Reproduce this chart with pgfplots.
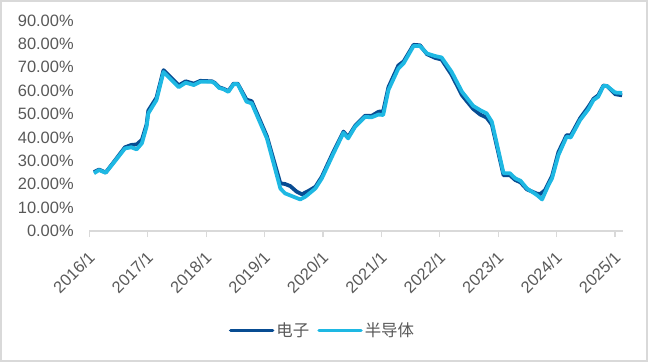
\documentclass[border=0pt]{standalone}
\usepackage{pgfplots}
\pgfplotsset{compat=1.18}
\usepackage{fontspec}
\setmainfont{Liberation Sans}
\newfontfamily\cjk{Noto Sans CJK SC}
\definecolor{darkb}{RGB}{8,76,146}
\definecolor{lightb}{RGB}{30,184,227}
\definecolor{txt}{RGB}{89,89,89}
\definecolor{frame}{RGB}{217,217,217}
\begin{document}
\fontsize{16.5}{19}\selectfont
\begin{tikzpicture}[x=1bp,y=1bp]
\begin{axis}[
  at={(0,0)}, anchor=south west,
  scale only axis, width=534bp, height=210.5bp,
  xmin=2016, xmax=2025.14, ymin=0, ymax=90,
  axis x line*=bottom, axis y line*=left,
  y axis line style={draw=none},
  x axis line style={draw=frame, line width=1.2bp},
  xtick={2016,...,2025},
  xticklabels={2016/1,2017/1,2018/1,2019/1,2020/1,2021/1,2022/1,2023/1,2024/1,2025/1},
  xtick style={draw=frame, line width=1.2bp},
  tick align=outside, major tick length=6bp,
  ytick={0,10,...,90},
  ytick style={draw=none},
  /pgf/number format/assume math mode=true,
  yticklabel={\pgfmathprintnumber[fixed,fixed zerofill,precision=2]{\tick}\%},
  yticklabel style={text=txt, font=\fontsize{16.5}{19}\selectfont, xshift=-4bp},
  xticklabel style={text=txt, font=\fontsize{16.5}{19}\selectfont, xshift=-2bp, yshift=-10bp, rotate=45, anchor=north east, inner sep=2bp},
  legend columns=2,
  legend style={draw=none, fill=none, at={(0.4367,-0.4736)}, anchor=center,
    font=\fontsize{16.5}{19}\selectfont, text=txt,
    /tikz/every even column/.append style={column sep=6bp}},
  legend image code/.code={\draw[#1, line width=3.5bp, line cap=round] (0bp,0bp) -- (42bp,0bp);},
  clip=false,
]
\addplot[darkb, line width=3.8bp, line join=round] coordinates {
(2016.08,25.2) (2016.17,26.3) (2016.21,25.8) (2016.28,25.0) (2016.45,30.5) (2016.61,35.8) (2016.72,36.8) (2016.81,37.0) (2016.90,39.0) (2016.98,45.5) (2017.01,51.5) (2017.15,57.0) (2017.27,68.8) (2017.53,62.3) (2017.65,64.0) (2017.79,63.0) (2017.90,64.2) (2018.10,64.0) (2018.15,63.3) (2018.22,61.5) (2018.30,60.8) (2018.38,59.8) (2018.47,63.0) (2018.54,63.0) (2018.69,56.2) (2018.78,55.5) (2019.04,40.5) (2019.27,20.4) (2019.35,20.1) (2019.44,19.2) (2019.55,16.8) (2019.64,15.7) (2019.75,17.1) (2019.87,18.9) (2019.98,23.2) (2020.18,34.0) (2020.35,42.5) (2020.43,40.2) (2020.55,45.0) (2020.72,49.3) (2020.83,49.2) (2020.95,51.0) (2021.03,51.2) (2021.12,61.5) (2021.29,70.8) (2021.38,72.5) (2021.55,79.6) (2021.66,79.4) (2021.78,75.6) (2021.92,74.0) (2022.03,73.3) (2022.20,66.8) (2022.38,58.0) (2022.57,52.2) (2022.69,49.8) (2022.80,48.5) (2022.89,45.5) (2023.09,23.8) (2023.20,23.8) (2023.29,21.8) (2023.38,20.8) (2023.49,17.8) (2023.66,16.0) (2023.72,15.8) (2023.80,17.5) (2023.92,23.5) (2024.03,33.8) (2024.17,41.0) (2024.24,40.8) (2024.40,48.2) (2024.54,53.0) (2024.63,56.5) (2024.71,58.0) (2024.80,62.2) (2024.86,62.0) (2025.00,58.5) (2025.12,58.0)
};
\addlegendentry{\cjk 电子}
\addplot[lightb, line width=3.8bp, line join=round] coordinates {
(2016.08,24.7) (2016.17,26.1) (2016.21,25.6) (2016.28,24.9) (2016.45,30.2) (2016.61,35.3) (2016.72,35.8) (2016.81,34.9) (2016.90,37.5) (2016.98,44.6) (2017.01,50.3) (2017.15,56.0) (2017.27,68.0) (2017.53,61.5) (2017.65,63.4) (2017.79,62.4) (2017.90,63.8) (2018.10,63.8) (2018.15,63.1) (2018.22,61.2) (2018.30,60.6) (2018.38,59.5) (2018.47,62.8) (2018.54,62.8) (2018.69,55.3) (2018.78,54.6) (2019.04,39.6) (2019.27,18.2) (2019.35,16.1) (2019.61,13.5) (2019.70,14.7) (2019.87,18.2) (2019.98,22.5) (2020.18,33.2) (2020.35,42.0) (2020.43,39.6) (2020.55,44.6) (2020.72,48.8) (2020.83,48.6) (2020.95,49.8) (2021.03,49.6) (2021.12,60.3) (2021.29,69.5) (2021.38,71.7) (2021.55,79.1) (2021.66,79.1) (2021.78,75.9) (2021.92,74.8) (2022.03,74.2) (2022.20,68.1) (2022.38,59.5) (2022.57,53.5) (2022.69,51.7) (2022.80,50.3) (2022.89,46.7) (2023.09,24.7) (2023.20,24.7) (2023.29,22.5) (2023.38,21.5) (2023.49,18.2) (2023.66,15.4) (2023.75,13.5) (2023.86,19.7) (2023.92,22.5) (2024.03,32.5) (2024.17,40.3) (2024.24,40.0) (2024.40,47.4) (2024.54,52.0) (2024.63,56.0) (2024.71,57.4) (2024.80,62.0) (2024.86,62.0) (2025.00,59.2) (2025.12,59.0)
};
\addlegendentry{\cjk 半导体}
\end{axis}
\draw[frame, line width=2bp] (-88.3bp,-130bp) rectangle (557.7bp,230bp);
\end{tikzpicture}
\end{document}
